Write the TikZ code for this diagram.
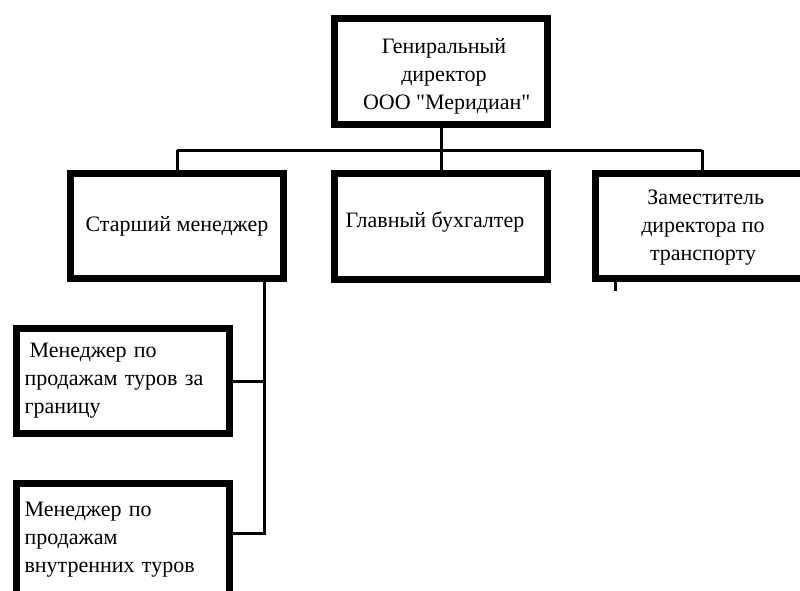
\documentclass[tikz,border=0pt]{standalone}
\usepackage{fontspec}
\setmainfont{Liberation Serif}[Ligatures=TeXOff]
\begin{document}
\begin{tikzpicture}[x=1pt,y=-1pt,
  box/.style={draw, line width=7pt, fill=white, inner sep=0pt, align=center,
    minimum width=213pt, minimum height=105pt, font=\fontsize{22}{28}\selectfont},
  lbox/.style={box, align=left, text width=197pt},
  conn/.style={line width=3pt}]
\useasboundingbox (0,0) rectangle (800,590);
\clip (0,0) rectangle (800,590);
% nodes
\node[box, minimum height=106pt] (top) at (441,71.5) {};
\node[align=center, font=\fontsize{22}{28}\selectfont, inner sep=0pt] (toptext) at (444,76) {Генирaльный\\директор\\\ ООО "Меридиан"};
\node[box] (left) at (177,226) {Старший менеджер};
\node[box, minimum height=106pt] (mid) at (441,226.5) {};
\node[font=\fontsize{22}{28}\selectfont, inner sep=0pt] (midtext) at (435,222) {Главный бухгалтер};
\node[box] (right) at (702,226) {};
\node[align=center, font=\fontsize{22}{28}\selectfont, inner sep=0pt] (righttext) at (703,228) {\ Заместитель\\директора по\\транспорту};
\node[lbox] (m1) at (123,381) {\hspace{5pt}Менеджер по\\продажам туров за\\границу};
\node[lbox, minimum height=113pt] (m2) at (123,540) {Менеджер по\\продажам\\внутренних туров};
% connectors
\coordinate (busL) at (177,150);
\coordinate (busR) at (702,150);
\coordinate (drop) at (264,533);
\coordinate (tick) at (615,291);
\draw[conn] (top.south) -- (top.south |- busL);
\draw[conn] (busL) -- (busR);
\draw[conn] (busL) -- (left.north);
\draw[conn] (top.south |- busL) -- (mid.north);
\draw[conn] (busR) -- (right.north);
\draw[conn] (left.south -| drop) -- (drop) -- (m2.east |- drop);
\draw[conn] (m1.east) -- (m1.east -| drop);
\draw[conn] (right.south -| tick) -- (tick);
\end{tikzpicture}
\end{document}
